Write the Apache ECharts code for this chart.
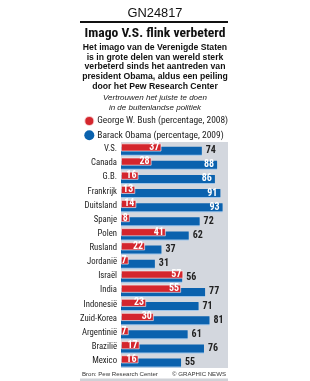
<!DOCTYPE html>
<html>
<head>
<meta charset="utf-8">
<script src="https://cdn.jsdelivr.net/npm/echarts@6/dist/echarts.min.js"></script>
<style>html,body{margin:0;padding:0;background:#fff;}#c{width:310px;height:381px;}</style>
</head>
<body>
<div id="c"></div>
<script>
const codeText = 'GN24817';
const titleText = 'Imago V.S. flink verbeterd';
const subtitleLines = ['Het imago van de Verenigde Staten', 'is in grote delen van wereld sterk', 'verbeterd sinds het aantreden van', 'president Obama, aldus een peiling', 'door het Pew Research Center'];
const questionLines = ['Vertrouwen het juiste te doen', 'in de buitenlandse politiek'];
const sourceText = 'Bron: Pew Research Center';
const creditText = '© GRAPHIC NEWS';
const seriesNames = ['George W. Bush (percentage, 2008)', 'Barack Obama (percentage, 2009)'];
const categories = ['V.S.','Canada','G.B.','Frankrijk','Duitsland','Spanje','Polen','Rusland','Jordanië','Israël','India','Indonesië','Zuid-Korea','Argentinië','Brazilië','Mexico'];
const bush = [37,28,16,13,14,8,41,22,7,57,55,23,30,7,17,16];
const obama = [74,88,86,91,93,72,62,37,31,56,77,71,81,61,76,55];

const SANS = "'Liberation Sans',Arial,sans-serif";
const ROBO = "Roboto,'Liberation Sans',sans-serif";
const ctx = document.createElement('canvas').getContext('2d');
function fit(text, prefix, family, target) {
  ctx.font = prefix + ' 100px ' + family;
  return +(100 * target / ctx.measureText(text).width).toFixed(2);
}
const gnSize = fit(codeText, 'normal', SANS, 55);
const titleSize = fit(titleText, 'condensed bold', ROBO, 141);
const subSize = fit(subtitleLines[3], 'bold', SANS, 146);
const qSize = fit(questionLines[0], 'italic', SANS, 104);
const legSize = fit(seriesNames[0], 'condensed', ROBO, 131);
const catSize = fit('Zuid-Korea', 'condensed', ROBO, 37);
const footSize = fit(sourceText, 'normal', SANS, 76);

const texts = [
  {type: 'text', x: 155, y: 13, style: {text: codeText, font: gnSize + 'px ' + SANS, fill: '#111', textAlign: 'center', textVerticalAlign: 'middle'}},
  {type: 'text', x: 155, y: 33.5, style: {text: titleText, font: 'condensed bold ' + titleSize + 'px ' + ROBO, fill: '#111', textAlign: 'center', textVerticalAlign: 'middle'}}
];
subtitleLines.forEach((t, i) => texts.push({type: 'text', x: 155, y: 47.7 + i * 9.7, style: {text: t, font: 'bold ' + subSize + 'px ' + SANS, fill: '#111', textAlign: 'center', textVerticalAlign: 'middle'}}));
questionLines.forEach((t, i) => texts.push({type: 'text', x: 155, y: 98 + i * 9.8, style: {text: t, font: 'italic ' + qSize + 'px ' + SANS, fill: '#222', textAlign: 'center', textVerticalAlign: 'middle'}}));

const chart = echarts.init(document.getElementById('c'));
chart.setOption({
  animation: false,
  backgroundColor: '#fff',
  legend: {
    data: seriesNames,
    orient: 'vertical',
    left: 83.3,
    top: 115,
    itemWidth: 10,
    itemHeight: 10,
    itemGap: 3.3,
    icon: 'circle',
    padding: 0,
    textStyle: {fontFamily: ROBO, fontStyle: 'condensed', fontSize: legSize, lineHeight: 10, color: '#222', padding: [0,0,0,-2]}
  },
  grid: {left: 121, top: 142, width: 107, height: 226, show: true, backgroundColor: '#d3d7de', borderWidth: 0},
  xAxis: {type: 'value', min: 0, max: 98, show: false},
  yAxis: {
    type: 'category', data: categories, inverse: true,
    axisLine: {show: false}, axisTick: {show: false},
    axisLabel: {interval: 0, fontFamily: ROBO, fontStyle: 'condensed', fontSize: catSize, color: '#222', margin: 4}
  },
  series: [
    {
      name: seriesNames[0], type: 'bar', data: bush, barWidth: 8, barGap: '-60%', z: 3,
      itemStyle: {color: '#d4262d', borderColor: 'rgba(255,255,255,0.75)', borderWidth: 0.8},
      label: {show: true, position: 'insideRight', distance: 2, color: '#fff', fontFamily: ROBO, fontStyle: 'condensed', fontSize: 10, fontWeight: 'bold'}
    },
    {
      name: seriesNames[1], type: 'bar', barWidth: 8, z: 2,
      data: obama.map(v => v >= 85 ? {value: v, label: {position: 'insideRight', color: '#fff', distance: 3}} : v),
      itemStyle: {color: '#0b62ae', shadowColor: '#9cc4ea', shadowOffsetY: 1},
      label: {show: true, position: 'right', distance: 4, color: '#222', fontFamily: ROBO, fontStyle: 'condensed', fontSize: 10, fontWeight: 'bold'}
    }
  ],
  graphic: texts.concat([
    {type: 'line', shape: {x1: 80, y1: 22, x2: 228, y2: 22}, style: {stroke: '#111', lineWidth: 2}},
    {type: 'text', x: 82, y: 374, style: {text: sourceText, font: footSize + 'px ' + SANS, fill: '#333', textVerticalAlign: 'middle'}},
    {type: 'text', x: 226, y: 374, style: {text: creditText, font: footSize + 'px ' + SANS, fill: '#333', textAlign: 'right', textVerticalAlign: 'middle'}},
    {type: 'rect', shape: {x: 80, y: 378.5, width: 148, height: 2.5}, style: {fill: '#cfd2d7'}}
  ])
});
</script>
</body>
</html>
